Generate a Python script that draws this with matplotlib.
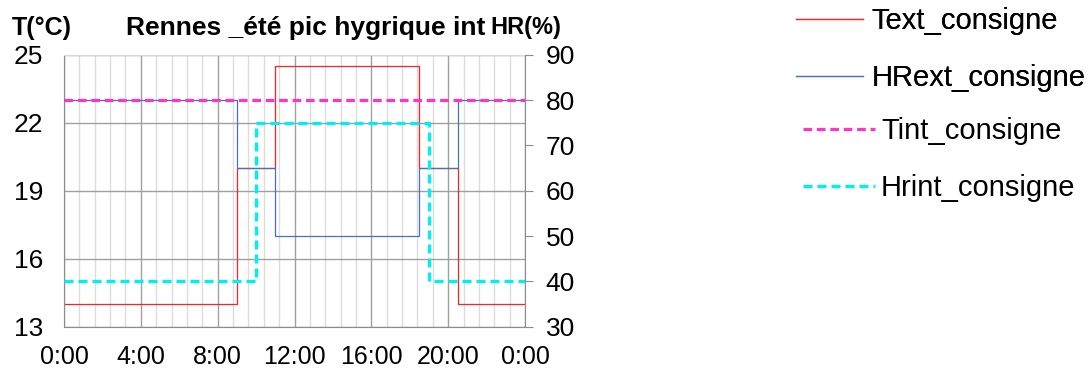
import matplotlib
matplotlib.use("Agg")
import matplotlib.pyplot as plt
from matplotlib.ticker import MultipleLocator, FuncFormatter

plt.rcParams["font.family"] = ["Liberation Sans", "DejaVu Sans"]

# consignes sur 24 h (heures de changement, valeurs en palier)
hours_text = [0, 9, 11, 18.5, 20.5, 24]
text_consigne = [14, 20, 24.5, 20, 14, 14]

hours_hrext = [0, 9, 11, 18.5, 20.5, 24]
hrext_consigne = [80, 65, 50, 65, 80, 80]

hours_tint = [0, 24]
tint_consigne = [23, 23]

hours_hrint = [0, 10, 19, 24]
hrint_consigne = [40, 75, 40, 40]

t_ticks = [13, 16, 19, 22, 25]
hr_ticks = [30, 40, 50, 60, 70, 80, 90]

fig = plt.figure(figsize=(10.9, 3.72), dpi=100)
ax = fig.add_axes([64 / 1090, 45.3 / 372, 461 / 1090, 272 / 372])
ax2 = ax.twinx()

axis_grey = "#8C8C8C"
dash = (2.7, 1.5)

l_text, = ax.plot(hours_text, text_consigne, drawstyle="steps-post",
                  color="#FF2020", lw=0.9, label="Text_consigne")
l_hrext, = ax2.plot(hours_hrext, hrext_consigne, drawstyle="steps-post",
                    color="#4472C4", lw=0.9, label="HRext_consigne")
# Tint sur l'axe des températures mais tracé au-dessus de HRext
l_tint, = ax2.plot(hours_tint, tint_consigne, transform=ax.transData,
                   color="#FF33CC", lw=2.3, dashes=dash, label="Tint_consigne")
l_hrint, = ax2.plot(hours_hrint, hrint_consigne, drawstyle="steps-post",
                    color="#00F0F0", lw=2.4, dashes=dash, label="Hrint_consigne")

ax.set_xlim(0, 24)
ax.set_ylim(13, 25)
ax.set_yticks(t_ticks)
ax2.set_ylim(30, 90)
ax2.set_yticks(hr_ticks)

ax.xaxis.set_major_locator(MultipleLocator(4))
ax.xaxis.set_minor_locator(MultipleLocator(0.8))
ax.xaxis.set_major_formatter(FuncFormatter(lambda h, pos: f"{int(h) % 24}:00"))

ax.grid(which="minor", axis="x", color="#DCDCDC", lw=1)
ax.grid(which="major", axis="x", color="#A0A0A0", lw=1)
ax.grid(which="major", axis="y", color="#A0A0A0", lw=1)

for name, sp in ax.spines.items():
    sp.set_color(axis_grey)
ax.spines["top"].set_color("#D9D9D9")
ax.spines["right"].set_visible(False)
for name in ["left", "top", "bottom"]:
    ax2.spines[name].set_visible(False)
ax2.spines["right"].set_color(axis_grey)

ax.tick_params(axis="y", length=0, pad=15, labelsize=19)
ax.tick_params(axis="x", which="both", length=0, pad=13, labelsize=18)
ax2.tick_params(axis="y", length=6, color=axis_grey, pad=9, labelsize=19)

fig.text(12 / 1090, 0.925, "T(°C)", fontsize=18, fontweight="bold", va="center")
fig.text(306 / 1090, 0.925, "Rennes _été pic hygrique int", fontsize=19,
         fontweight="bold", ha="center", va="center")
fig.text(490 / 1090, 0.925, "HR(%)", fontsize=17, fontweight="bold", va="center")

leg1 = fig.legend(handles=[l_text, l_hrext], loc="upper left",
                  bbox_to_anchor=(796 / 1090, 1 - 7 / 372), frameon=False,
                  fontsize=21, handlelength=2.3, handletextpad=0.3,
                  labelspacing=1.0, borderpad=0, borderaxespad=0)
fig.legend(handles=[l_tint, l_hrint], loc="upper left",
           bbox_to_anchor=(803 / 1090, 1 - 117 / 372), frameon=False,
           fontsize=21, handlelength=2.47, handletextpad=0.2,
           labelspacing=1.0, borderpad=0, borderaxespad=0)
fig.add_artist(leg1)

fig.savefig("out.png", dpi=100)
